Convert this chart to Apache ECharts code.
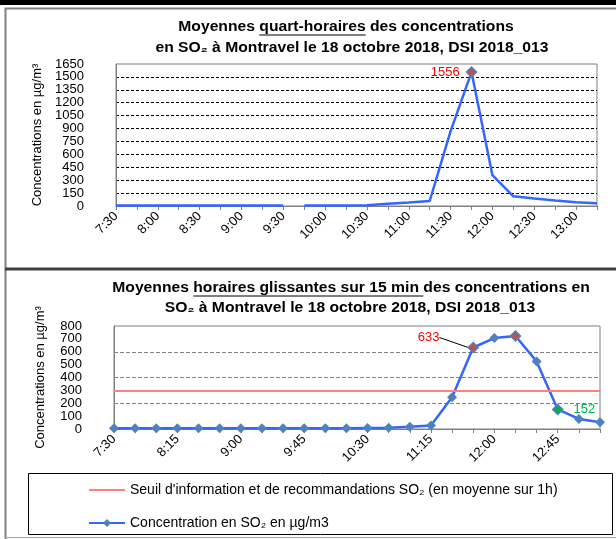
<!DOCTYPE html>
<html lang="fr">
<head>
    <meta charset="UTF-8">
    <title>SO2 Montravel 18 octobre 2018</title>
    <script type="text/javascript" src="https://cdn.jsdelivr.net/npm/echarts@6/dist/echarts.min.js"></script>
    <style>
        html, body { margin: 0; padding: 0; background: #fff; }
        #chart { width: 616px; height: 539px; }
    </style>
</head>
<body>
<div id="chart"></div>

<script type="text/javascript">
    // heures (pas de 15 min)
    var heures = ['7:30', '7:45', '8:00', '8:15', '8:30', '8:45', '9:00', '9:15', '9:30', '9:45',
        '10:00', '10:15', '10:30', '10:45', '11:00', '11:15', '11:30', '11:45', '12:00', '12:15',
        '12:30', '12:45', '13:00', '13:15'];
    // moyennes quart-horaires (µg/m3)
    var quartHoraire = [5, 5, 5, 5, 5, 5, 5, 5, 5, 5, 5, 6, 8, 25, 40, 58, 870, 1556, 358, 113, 86, 63, 43, 31];
    var coupureApres = '9:30'; // pas de trait entre 9:30 et 9:45
    // moyennes horaires glissantes sur 15 min (µg/m3)
    var glissante = [5, 5, 5, 5, 5, 5, 5, 5, 5, 5, 5, 6, 8, 10, 18, 28, 246, 633, 706, 722, 525, 152, 78, 52];
    var seuil = 300;
    var pointsRouges = ['11:45', '12:15'];
    var pointVert = '12:45';
    var etiquetteRouge = '11:45';
    // axes
    var maxHaut = 1650, pasHaut = 150;
    var maxBas = 800, pasBas = 100, pasGrilleBas = 200;

    var police = '"Liberation Sans", Arial, sans-serif';
    var nomSeuil = 'Seuil d\'information et de recommandations SO\u2082 (en moyenne sur 1h)';
    var nomConc = 'Concentration en SO\u2082 en µg/m3';

    var myChart = echarts.init(document.getElementById('chart'));

    // series du haut, coupees en deux
    var iCoupure = heures.indexOf(coupureApres);
    var iPic = quartHoraire.indexOf(Math.max.apply(null, quartHoraire));
    function pointHaut(v, i) {
        if (i !== iPic) return v;
        return {
            value: v, symbol: 'diamond', symbolSize: 10,
            itemStyle: {color: '#c0504d', borderColor: '#4f81bd', borderWidth: 1.5},
            label: {show: true, position: 'left', distance: 6, color: '#ff0000', fontSize: 13, fontFamily: police}
        };
    }
    var hautA = quartHoraire.map(function (v, i) { return i <= iCoupure ? pointHaut(v, i) : '-'; });
    var hautB = quartHoraire.map(function (v, i) { return i > iCoupure ? pointHaut(v, i) : '-'; });

    var iRouge = heures.indexOf(etiquetteRouge);
    var basData = glissante.map(function (v, i) {
        var h = heures[i];
        if (pointsRouges.indexOf(h) >= 0) {
            var it = {value: v, itemStyle: {color: '#c0504d', borderColor: '#4f81bd', borderWidth: 1.5}};
            if (i === iRouge) {
                it.label = {show: true, position: 'left', distance: 4, color: '#ff0000', fontSize: 13, fontFamily: police};
                it.labelLine = {show: true, lineStyle: {color: '#000', width: 1}};
            }
            return it;
        }
        if (h === pointVert) {
            return {
                value: v, itemStyle: {color: '#00b050', borderColor: '#4f81bd', borderWidth: 1.5},
                label: {show: true, position: 'right', distance: 10, color: '#00b050', fontSize: 13, fontFamily: police}
            };
        }
        return v;
    });

    // titres + soulignement (texte un peu etire en largeur comme l'original)
    var ctx = document.createElement('canvas').getContext('2d');
    var fontTitre = 'bold 14px ' + police;
    var etire = 1.12;
    ctx.font = fontTitre;
    var titres = [
        {texte: 'Moyennes quart-horaires des concentrations', x: 346, y: 27.5, souligne: 'quart-horaires'},
        {texte: 'en SO\u2082 à Montravel le 18 octobre 2018, DSI 2018_013', x: 352, y: 48},
        {texte: 'Moyennes horaires glissantes sur 15 min des concentrations en', x: 351, y: 288.5, souligne: 'horaires glissantes sur 15 min '},
        {texte: 'SO\u2082 à Montravel le 18 octobre 2018, DSI 2018_013', x: 350, y: 308}
    ];
    var graphics = [
        {type: 'rect', shape: {x: 0, y: 0, width: 616, height: 5}, style: {fill: '#000'}},
        {type: 'polyline', shape: {points: [[5.5, 539], [5.5, 8.5], [616, 8.5]]}, style: {stroke: '#808080', lineWidth: 2, fill: null}},
        {type: 'rect', shape: {x: 5, y: 267.5, width: 611, height: 3}, style: {fill: '#404040'}},
        {type: 'line', shape: {x1: 5, y1: 537.5, x2: 616, y2: 537.5}, style: {stroke: '#a0a0a0', lineWidth: 1}},
        {type: 'rect', shape: {x: 28.5, y: 473.5, width: 584, height: 61}, style: {fill: null, stroke: '#000', lineWidth: 1}}
    ];
    titres.forEach(function (t) {
        graphics.push({
            type: 'text', x: t.x, y: t.y, scaleX: etire,
            style: {text: t.texte, font: fontTitre, align: 'center', verticalAlign: 'middle', fill: '#000'}
        });
        if (t.souligne) {
            var w = ctx.measureText(t.texte).width * etire;
            var debut = t.texte.indexOf(t.souligne);
            var x1 = t.x - w / 2 + ctx.measureText(t.texte.slice(0, debut)).width * etire;
            var x2 = x1 + ctx.measureText(t.souligne).width * etire;
            graphics.push({
                type: 'line', shape: {x1: x1, y1: t.y + 7.5, x2: x2, y2: t.y + 7.5},
                style: {stroke: '#000', lineWidth: 1}
            });
        }
    });

    function axeX(grid, intervalle) {
        return {
            gridIndex: grid, type: 'category', data: heures, boundaryGap: false,
            axisLine: {lineStyle: {color: '#808080', width: 1}},
            axisTick: {show: true, interval: 0, length: 4, lineStyle: {color: '#808080'}},
            axisLabel: {interval: intervalle, rotate: 45, fontSize: 13, color: '#000', margin: 8, fontFamily: police},
            splitLine: {show: false}
        };
    }
    var nomY = {
        name: 'Concentrations en µg/m³', nameLocation: 'middle', nameGap: 67,
        nameTextStyle: {fontSize: 13, color: '#000', fontFamily: police}
    };
    var etiquetteY = {fontSize: 13, color: '#000', margin: 32, fontFamily: police, formatter: function (v) { return String(v); }};

    myChart.setOption({
        animation: false,
        textStyle: {fontFamily: police},
        graphic: graphics,
        grid: [
            {left: 116, top: 64, right: 19, height: 142, show: true, borderColor: '#808080', borderWidth: 1, backgroundColor: 'transparent'},
            {left: 114, top: 326, right: 16, height: 103, show: true, borderColor: '#808080', borderWidth: 1, backgroundColor: 'transparent'}
        ],
        xAxis: [axeX(0, 1), axeX(1, 2)],
        yAxis: [
            Object.assign({
                gridIndex: 0, type: 'value', min: 0, max: maxHaut, interval: pasHaut,
                axisLine: {show: true, lineStyle: {color: '#808080'}},
                axisTick: {show: false},
                axisLabel: etiquetteY,
                splitLine: {show: true, showMinLine: false, showMaxLine: false, lineStyle: {color: '#000', type: [3, 2], width: 1}}
            }, nomY),
            Object.assign({
                gridIndex: 1, type: 'value', min: 0, max: maxBas, interval: pasBas,
                axisLine: {show: true, lineStyle: {color: '#808080'}},
                axisTick: {show: false},
                axisLabel: etiquetteY,
                splitLine: {show: false}
            }, nomY),
            {
                gridIndex: 1, type: 'value', position: 'right', min: 0, max: maxBas, interval: pasGrilleBas,
                axisLine: {show: false}, axisTick: {show: false}, axisLabel: {show: false},
                splitLine: {show: true, showMinLine: false, showMaxLine: false, lineStyle: {color: '#808080', type: [4, 2], width: 1}}
            }
        ],
        legend: {
            data: [
                {name: nomSeuil, itemStyle: {color: 'rgba(0,0,0,0)', borderColor: 'rgba(0,0,0,0)', borderWidth: 0, opacity: 0}},
                nomConc
            ],
            orient: 'vertical', left: 88, top: 483, padding: 0,
            itemWidth: 36, itemHeight: 10, itemGap: 19,
            textStyle: {fontSize: 14, color: '#000', fontFamily: police}
        },
        series: [{
            name: 'Quart-horaire', type: 'line', xAxisIndex: 0, yAxisIndex: 0,
            data: hautA, symbol: 'none', lineStyle: {color: '#3366ff', width: 2.5}, itemStyle: {color: '#3366ff'}
        }, {
            name: 'Quart-horaire suite', type: 'line', xAxisIndex: 0, yAxisIndex: 0,
            data: hautB, symbol: 'none', lineStyle: {color: '#3366ff', width: 2.5}, itemStyle: {color: '#3366ff'}
        }, {
            name: nomSeuil, type: 'line', xAxisIndex: 1, yAxisIndex: 1, data: [],
            symbol: 'none', color: '#ff8080', lineStyle: {color: '#ff8080', width: 2},
            markLine: {
                silent: true, symbol: ['none', 'none'], label: {show: false},
                lineStyle: {color: '#ff8080', width: 2, type: 'solid'},
                data: [{yAxis: seuil}]
            }
        }, {
            name: nomConc, type: 'line', xAxisIndex: 1, yAxisIndex: 1,
            data: basData, symbol: 'diamond', symbolSize: 10, showAllSymbol: true,
            itemStyle: {color: '#4f81bd'}, lineStyle: {color: '#3366ff', width: 2.5},
            labelLayout: function (p) {
                if (p.dataIndex === iRouge) return {dx: -24, dy: -10};
            }
        }]
    });
</script>
</body>
</html>
